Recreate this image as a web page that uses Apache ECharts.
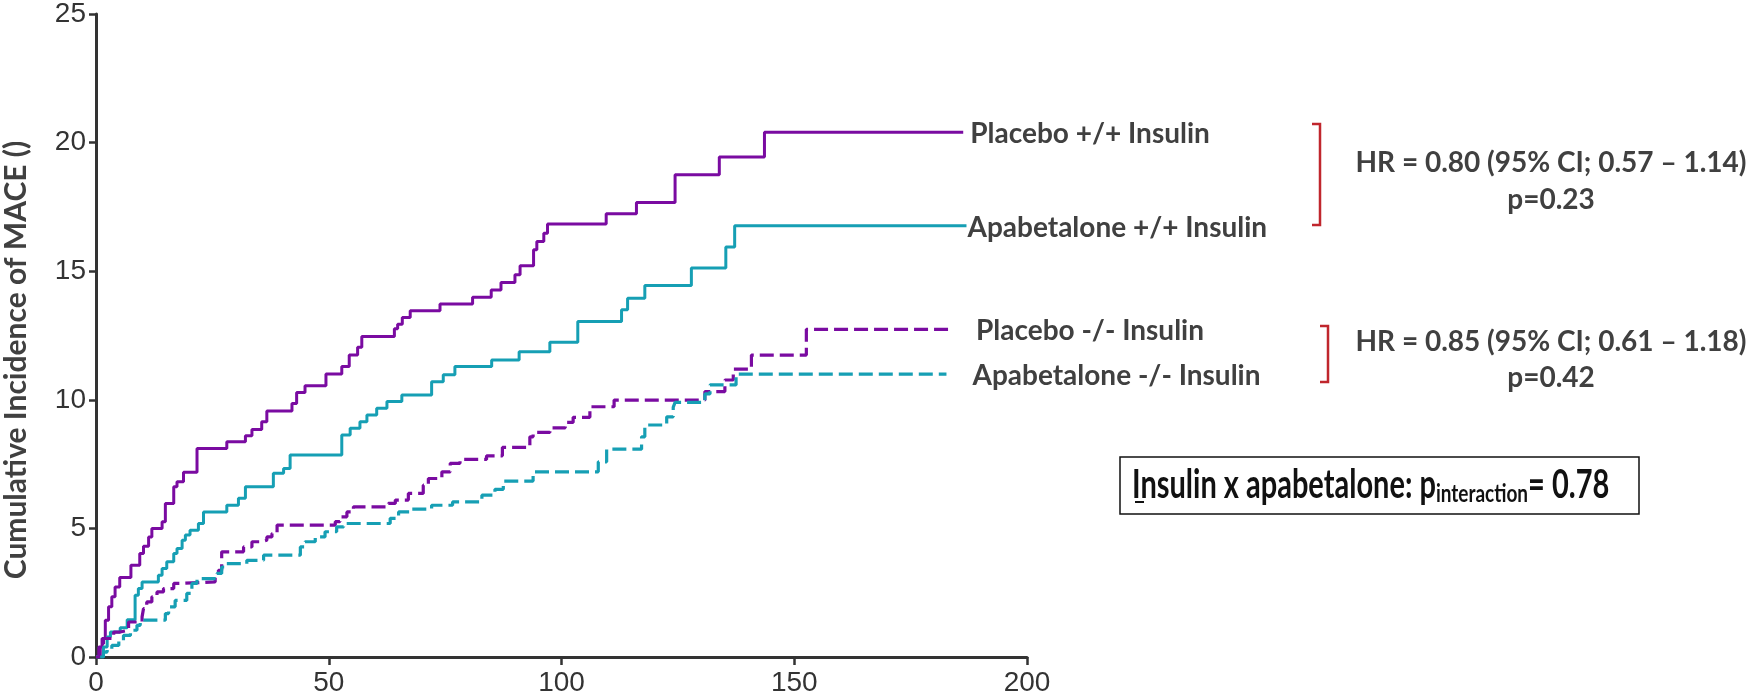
<!DOCTYPE html>
<html>
<head>
<meta charset="utf-8">
<script src="https://cdn.jsdelivr.net/npm/echarts@6/dist/echarts.min.js"></script>
<style>
  html, body { margin: 0; padding: 0; background: #fff; }
  #chart { width: 1748px; height: 698px; }
</style>
</head>
<body>
<div id="chart"></div>
<script>
// Kaplan-Meier style step curves: [day, cumulative incidence after the step]
const placeboInsulin = [
  [0, 0], [0.6, 0.39], [1.3, 0.72], [2.0, 1.43], [2.7, 1.95], [3.4, 2.34], [4.1, 2.72], [5.1, 3.09],
  [7.5, 3.57], [9.4, 4.02], [10.2, 4.31], [11.3, 4.67], [12.0, 5.0], [14.2, 5.26], [14.9, 5.97],
  [16.7, 6.62], [17.4, 6.81], [18.8, 7.18], [21.7, 8.11], [28.1, 8.37], [32.1, 8.6], [33.5, 8.85],
  [35.6, 9.15], [36.7, 9.56], [42.1, 9.86], [43.1, 10.28], [44.9, 10.55], [49.4, 11.0], [52.8, 11.29],
  [54.4, 11.74], [56.2, 12.04], [57.1, 12.46], [64.1, 12.76], [64.8, 12.94], [65.8, 13.2], [67.5, 13.46],
  [73.9, 13.72], [80.9, 13.99], [84.9, 14.27], [87.0, 14.56], [90.0, 14.86], [91.1, 15.21], [94.0, 15.83],
  [94.7, 16.15], [96.2, 16.48], [97.0, 16.84], [109.6, 17.23], [116.1, 17.67], [124.4, 18.75],
  [133.9, 19.44], [143.6, 20.4], [186.3, 20.4]
];
const apabetaloneInsulin = [
  [0, 0], [1.6, 0.39], [2.4, 0.78], [3.1, 0.97], [5.2, 1.14], [6.7, 1.45], [8.4, 2.4], [9.1, 2.66],
  [9.9, 2.92], [13.4, 3.18], [14.2, 3.44], [15.2, 3.7], [16.7, 4.02], [17.4, 4.22], [18.5, 4.54],
  [19.2, 4.74], [20.2, 4.93], [22.0, 5.19], [23.1, 5.64], [28.1, 5.9], [30.6, 6.17], [32.1, 6.62],
  [38.1, 7.14], [40.3, 7.33], [41.7, 7.85], [52.8, 8.63], [54.6, 8.89], [56.7, 9.15], [58.2, 9.41],
  [60.3, 9.67], [62.5, 9.93], [65.7, 10.19], [72.1, 10.7], [74.6, 10.97], [77.1, 11.29], [85.0, 11.55],
  [90.9, 11.87], [97.5, 12.24], [103.5, 13.04], [112.9, 13.5], [114.2, 13.95], [117.9, 14.44],
  [127.9, 15.12], [135.3, 15.94], [137.2, 16.77], [187.0, 16.77]
];
const placeboNoInsulin = [
  [0, 0], [0.9, 0.52], [1.6, 0.72], [3.8, 0.97], [5.2, 1.04], [7.0, 1.36], [9.9, 1.56], [10.2, 1.88],
  [10.9, 2.14], [12.0, 2.34], [13.1, 2.53], [14.5, 2.66], [16.7, 2.86], [18.1, 2.92], [25.6, 3.11],
  [26.3, 3.37], [27.0, 4.09], [31.7, 4.28], [33.5, 4.48], [35.6, 4.54], [36.7, 4.67], [37.8, 4.8],
  [38.9, 5.13], [51.4, 5.26], [52.4, 5.45], [53.9, 5.64], [55.3, 5.84], [62.8, 5.97], [64.3, 6.1],
  [67.1, 6.36], [70.3, 6.68], [71.4, 6.94], [74.3, 7.2], [76.1, 7.53], [78.2, 7.68], [83.9, 7.82],
  [87.3, 8.15], [93.2, 8.56], [93.9, 8.73], [97.5, 8.91], [100.8, 9.12], [102.5, 9.32], [106.1, 9.73],
  [111.3, 9.99], [130.8, 10.32], [135.1, 10.77], [136.9, 11.19], [140.8, 11.74], [152.6, 12.74],
  [184.1, 12.74]
];
const apabetaloneNoInsulin = [
  [0.9, 0], [1.6, 0.19], [2.4, 0.32], [3.4, 0.45], [4.9, 0.65], [5.9, 0.84], [7.4, 1.04], [8.8, 1.23],
  [9.5, 1.43], [14.9, 1.69], [15.6, 1.95], [17.0, 2.2], [19.5, 2.47], [20.6, 2.86], [21.7, 3.05],
  [26.0, 3.25], [27.0, 3.5], [28.1, 3.63], [32.4, 3.76], [36.0, 3.96], [43.9, 4.28], [44.9, 4.48],
  [47.1, 4.67], [49.2, 4.87], [51.7, 5.06], [53.2, 5.19], [63.2, 5.39], [65.0, 5.64], [67.5, 5.75],
  [72.1, 5.9], [76.6, 6.03], [82.9, 6.29], [85.7, 6.52], [87.5, 6.84], [93.9, 7.2], [107.9, 7.59],
  [109.7, 8.08], [117.2, 8.56], [117.9, 9.02], [122.6, 9.34], [124.0, 9.71], [124.4, 9.9],
  [130.8, 10.23], [131.9, 10.58], [137.5, 11.0], [182.7, 11.0]
];

const seriesNames = ['Placebo +/+ Insulin', 'Apabetalone +/+ Insulin', 'Placebo -/- Insulin', 'Apabetalone -/- Insulin'];
const hrTexts = ['HR = 0.80 (95% CI; 0.57 – 1.14)', 'p=0.23', 'HR = 0.85 (95% CI; 0.61 – 1.18)', 'p=0.42'];
const interactionText = ['Insulin x apabetalone: p', 'interaction', '= 0.78'];
const yAxisTitle = 'Cumulative Incidence of MACE ()';

const PURPLE = '#7A0BA1';
const TEAL = '#169FB4';
const RED = '#C0262D';
const LABEL_FONT = 'Lato, "Open Sans", sans-serif';
const TICK_FONT = '"Liberation Sans", Arial, sans-serif';

const chart = echarts.init(document.getElementById('chart'));

function kmSeries(name, data, color, dashed, gap) {
  return {
    name: name,
    type: 'line',
    step: 'end',
    data: data,
    showSymbol: false,
    lineStyle: { color: color, width: dashed ? 3.2 : 3, type: dashed ? [14, 6] : 'solid' },
    endLabel: {
      show: true,
      formatter: '{a}',
      distance: gap,
      offset: [0, 2],
      color: '#404040',
      fontSize: 28,
      fontWeight: 'bold',
      fontFamily: LABEL_FONT
    }
  };
}

const option = {
  animation: false,
  backgroundColor: '#fff',
  grid: { left: 96, right: 721, top: 14, bottom: 41, containLabel: false },
  xAxis: {
    type: 'value',
    min: 0,
    max: 200,
    interval: 50,
    axisLine: { show: true, lineStyle: { color: '#333', width: 3 } },
    axisTick: { show: true, length: 8, lineStyle: { color: '#333', width: 2.5 } },
    axisLabel: { color: '#333', fontSize: 28, fontFamily: TICK_FONT, margin: 12 },
    splitLine: { show: false }
  },
  yAxis: {
    type: 'value',
    min: 0,
    max: 25,
    interval: 5,
    axisLine: { show: true, lineStyle: { color: '#333', width: 3 } },
    axisTick: { show: true, length: 7, lineStyle: { color: '#333', width: 2.5 } },
    axisLabel: { color: '#333', fontSize: 28, fontFamily: TICK_FONT, margin: 10 },
    splitLine: { show: false }
  },
  series: [
    kmSeries(seriesNames[0], placeboInsulin, PURPLE, false, 7),
    kmSeries(seriesNames[1], apabetaloneInsulin, TEAL, false, 1),
    kmSeries(seriesNames[2], placeboNoInsulin, PURPLE, true, 23),
    kmSeries(seriesNames[3], apabetaloneNoInsulin, TEAL, true, 26)
  ],
  graphic: [
    // y axis title
    {
      type: 'text', x: 16, y: 360, rotation: Math.PI / 2,
      style: {
        text: yAxisTitle, fill: '#404040', font: 'bold 30px ' + LABEL_FONT,
        textAlign: 'center', textVerticalAlign: 'middle', align: 'center', verticalAlign: 'middle'
      }
    },
    // brackets
    {
      type: 'polyline',
      shape: { points: [[1312, 124], [1320, 124], [1320, 225], [1312, 225]] },
      style: { stroke: RED, lineWidth: 2.5, fill: null }
    },
    {
      type: 'polyline',
      shape: { points: [[1320, 326], [1328, 326], [1328, 382], [1320, 382]] },
      style: { stroke: RED, lineWidth: 2.5, fill: null }
    },
    // hazard ratio texts
    ...hrTexts.map((t, i) => ({
      type: 'text', x: 1551, y: [163, 200, 342, 378][i],
      style: {
        text: t, fill: '#404040', font: 'bold 28px ' + LABEL_FONT,
        textAlign: 'center', textVerticalAlign: 'middle', align: 'center', verticalAlign: 'middle'
      }
    })),
    // interaction box
    {
      type: 'rect',
      shape: { x: 1120, y: 457, width: 519, height: 57 },
      style: { stroke: '#111', lineWidth: 1.5, fill: null }
    },
    {
      type: 'text', x: 1132, y: 485, scaleY: 1.35,
      style: {
        text: '{m|' + interactionText[0] + '}{s|' + interactionText[1] + '}{m|' + interactionText[2] + '}',
        textAlign: 'left', textVerticalAlign: 'middle', align: 'left', verticalAlign: 'middle',
        rich: {
          m: { fontSize: 29, fontWeight: 'bold', fontFamily: LABEL_FONT, fill: '#111', color: '#111', lineHeight: 32 },
          s: { fontSize: 19, fontWeight: 'bold', fontFamily: LABEL_FONT, fill: '#111', color: '#111', lineHeight: 20, verticalAlign: 'bottom' }
        }
      }
    },
    {
      type: 'rect',
      shape: { x: 1135, y: 501, width: 9, height: 2 },
      style: { fill: '#111' }
    }
  ]
};

chart.setOption(option);
window.addEventListener('resize', () => chart.resize());
</script>
</body>
</html>
